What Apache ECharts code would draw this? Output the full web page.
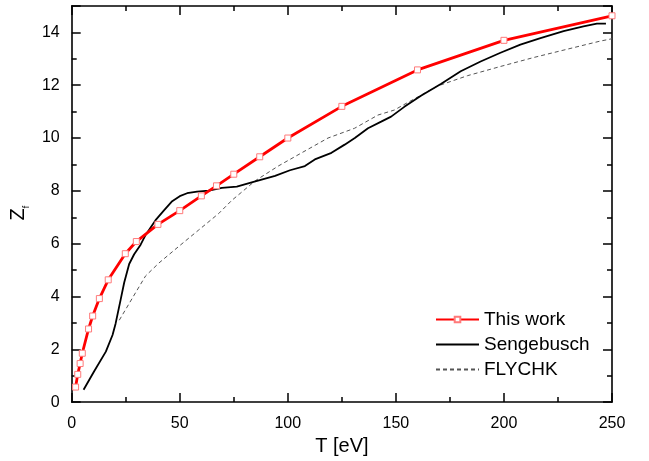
<!DOCTYPE html>
<html>
<head>
<meta charset="utf-8">
<script src="https://cdn.jsdelivr.net/npm/echarts@6/dist/echarts.min.js"></script>
<style>
  html, body { margin: 0; padding: 0; background: #fff; }
  #chart { width: 649px; height: 461px; }
</style>
</head>
<body>
<div id="chart"></div>
<script>
// This work (red, square markers)
const thisWorkT = [1.8, 2.8, 3.9, 4.9, 7.8, 9.7, 12.8, 16.9, 24.8, 29.9, 39.9, 50, 60, 67, 75, 87, 100, 125, 160, 200, 250];
const thisWorkZ = [0.57, 1.05, 1.46, 1.85, 2.77, 3.26, 3.92, 4.63, 5.62, 6.08, 6.73, 7.25, 7.81, 8.19, 8.63, 9.29, 10.0, 11.2, 12.58, 13.7, 14.63];

// Sengebusch (black solid)
const sengeT = [5.5, 10.4, 15.8, 18.9, 20.3, 22.7, 24.3, 26.6, 28.9, 31.9, 34.2, 38.8, 42.7, 46.5, 50, 53.4, 58, 63.4, 69.5, 76.4, 83.3, 94.1, 101, 107.9, 112.5, 120.2, 126.3, 131, 137.1, 143.2, 147.8, 153.9, 161.6, 170.8, 180, 189.2, 198.4, 207.6, 216.9, 227.6, 236.8, 243, 247.2];
const sengeZ = [0.47, 1.17, 1.91, 2.54, 2.97, 3.9, 4.53, 5.23, 5.6, 5.96, 6.33, 6.89, 7.26, 7.61, 7.8, 7.91, 7.97, 8.01, 8.11, 8.16, 8.32, 8.57, 8.78, 8.94, 9.19, 9.44, 9.75, 10.0, 10.37, 10.62, 10.81, 11.18, 11.6, 12.05, 12.53, 12.9, 13.23, 13.54, 13.78, 14.05, 14.23, 14.33, 14.33];

// FLYCHK (gray dashed)
const flyT = [22, 29.6, 34.2, 40.4, 49.6, 58.8, 68, 74.1, 77.9, 84.9, 95.6, 106.4, 118.6, 130.9, 141.7, 149.3, 154.7, 169.3, 183.1, 198.4, 213.8, 229.1, 244.5, 250];
const flyZ = [3.1, 4.15, 4.78, 5.27, 5.9, 6.52, 7.14, 7.64, 7.9, 8.38, 8.94, 9.44, 10.0, 10.37, 10.87, 11.06, 11.31, 11.97, 12.36, 12.71, 13.05, 13.36, 13.67, 13.76];

const seriesNames = ['This work', 'Sengebusch', 'FLYCHK'];

const zip = (xs, ys) => xs.map((x, i) => [x, ys[i]]);

const font = 'Arial, "Liberation Sans", sans-serif';

const axisCommon = {
  axisLine: { show: true, onZero: false, lineStyle: { color: '#000', width: 1.6 } },
  axisTick: { show: true, inside: true, length: 9, lineStyle: { color: '#000', width: 1.5 } },
  minorTick: { show: true, splitNumber: 2, length: 5, lineStyle: { color: '#000', width: 1.5 } },
  splitLine: { show: false },
  minorSplitLine: { show: false }
};

const myChart = echarts.init(document.getElementById('chart'));

let option = {
  backgroundColor: '#fff',
  animation: false,
  textStyle: { fontFamily: font },
  grid: { left: 69, right: 37, top: 6, bottom: 53 },
  legend: {
    orient: 'vertical',
    left: 430,
    top: 305,
    itemWidth: 43,
    itemHeight: 7,
    itemGap: 6,
    data: [
      { name: seriesNames[0] },
      { name: seriesNames[1], itemStyle: { opacity: 0 } },
      { name: seriesNames[2], itemStyle: { opacity: 0 } }
    ],
    textStyle: { fontSize: 19, color: '#000', fontFamily: font }
  },
  xAxis: [
    Object.assign({
      type: 'value', min: 0, max: 250, interval: 50, position: 'bottom',
      name: 'T [eV]', nameLocation: 'middle', nameGap: 30,
      nameTextStyle: { fontSize: 20, color: '#000', fontFamily: font },
      axisLabel: { fontSize: 16, color: '#000', margin: 13, fontFamily: font }
    }, axisCommon),
    Object.assign({
      type: 'value', min: 0, max: 250, interval: 50, position: 'top',
      axisLabel: { show: false }
    }, axisCommon)
  ],
  yAxis: [
    Object.assign({
      type: 'value', min: 0, max: 15, interval: 2, position: 'left',
      name: '{a|Z}{b|f}', nameLocation: 'middle', nameGap: 30, nameRotate: 90,
      nameTextStyle: {
        color: '#000', fontFamily: font, padding: [0, 18, 0, 0],
        rich: {
          a: { fontSize: 20, color: '#000', fontFamily: font },
          b: { fontSize: 9, color: '#000', fontFamily: font, verticalAlign: 'bottom', padding: [0, 0, -3, 0] }
        }
      },
      axisLabel: { fontSize: 16, color: '#000', margin: 12, fontFamily: font, showMaxLabel: false }
    }, axisCommon),
    Object.assign({
      type: 'value', min: 0, max: 15, interval: 2, position: 'right',
      axisLabel: { show: false }
    }, axisCommon)
  ],
  series: [
    {
      name: 'This work',
      type: 'line',
      data: zip(thisWorkT, thisWorkZ),
      symbol: 'rect',
      symbolSize: 6,
      showAllSymbol: true,
      lineStyle: { color: '#ff0000', width: 2.8 },
      itemStyle: { color: '#fff', borderColor: '#ff7a7a', borderWidth: 1 },
      z: 5
    },
    {
      name: 'Sengebusch',
      type: 'line',
      data: zip(sengeT, sengeZ),
      showSymbol: false,
      symbol: 'none',
      lineStyle: { color: '#000', width: 1.8 },
      itemStyle: { color: '#000' },
      z: 4
    },
    {
      name: 'FLYCHK',
      type: 'line',
      data: zip(flyT, flyZ),
      showSymbol: false,
      symbol: 'none',
      lineStyle: { color: '#555', width: 1, type: [4, 3] },
      itemStyle: { color: '#555' },
      z: 3
    }
  ]
};

myChart.setOption(option);
window.addEventListener('resize', () => myChart.resize());
</script>
</body>
</html>
